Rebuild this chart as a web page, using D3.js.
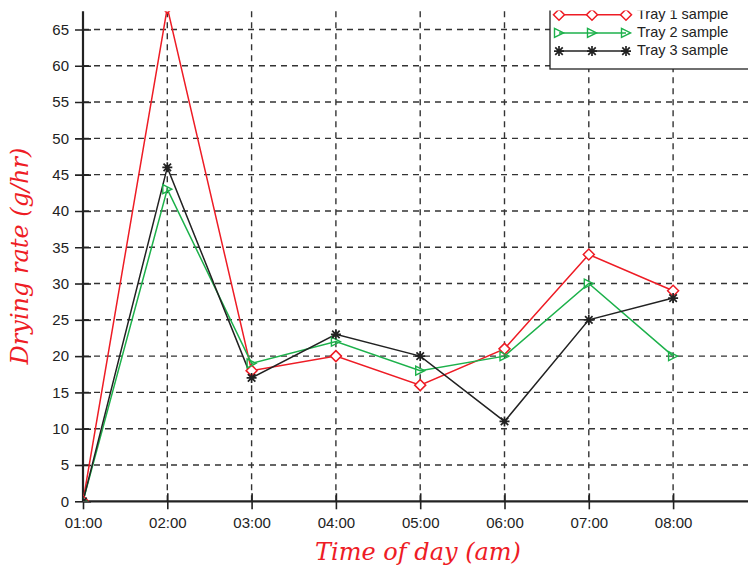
<!DOCTYPE html>
<html><head><meta charset="utf-8">
<script src="https://cdn.jsdelivr.net/npm/d3@7"></script>
<style>body{margin:0;background:#fff}svg{display:block}</style>
</head><body>
<svg id="c" width="748" height="569"></svg>
<script>
const hours = [1, 2, 3, 4, 5, 6, 7, 8];
const tickLabels = ["01:00","02:00","03:00","04:00","05:00","06:00","07:00","08:00"];
const tray1 = [0, 68, 18, 20, 16, 21, 34, 29];
const tray2 = [0, 43, 19, 22, 18, 20, 30, 20];
const tray3 = [0, 46, 17, 23, 20, 11, 25, 28];
const yTicks = [0,5,10,15,20,25,30,35,40,45,50,55,60,65];
const seriesNames = ["Tray 1 sample","Tray 2 sample","Tray 3 sample"];
const seriesColors = ["#ee1c25","#1db14b","#222222"];
const seriesMarkers = ["diamond","triangle","asterisk"];

(function(){
const svg = d3.select("#c");
const W = 748;
const pLeft = 83, pBottom = 501.3, pTop = 11.3;
const x = d3.scaleLinear().domain([1, 9]).range([pLeft, pLeft + 8*84.3]);
const y = d3.scaleLinear().domain([0, 67.5]).range([pBottom, pTop]);

const defs = svg.append("defs");
defs.append("clipPath").attr("id","pc")
  .append("rect").attr("x", pLeft).attr("y", pTop).attr("width", W-pLeft).attr("height", pBottom-pTop);
defs.append("clipPath").attr("id","fig")
  .append("rect").attr("x", 0).attr("y", 10.5).attr("width", W).attr("height", 569);
const root = svg.append("g").attr("clip-path","url(#fig)");

// grid
const grid = root.append("g");
grid.selectAll(".gy").data(yTicks.filter(d=>d>0)).join("line")
  .attr("x1", pLeft).attr("x2", W).attr("y1", d=>y(d)).attr("y2", d=>y(d))
  .attr("stroke","#333").attr("stroke-width",1.4).attr("stroke-dasharray","6,5");
grid.selectAll(".gx").data(hours.filter(d=>d>1)).join("line")
  .attr("x1", d=>x(d)).attr("x2", d=>x(d)).attr("y1", pTop).attr("y2", pBottom)
  .attr("stroke","#333").attr("stroke-width",1.4).attr("stroke-dasharray","6,5");

// axes
const xAxis = d3.axisBottom(x).tickValues(hours).tickFormat((d,i)=>tickLabels[i]).tickSizeInner(8).tickSizeOuter(0).tickPadding(8);
const gx = root.append("g").attr("transform",`translate(0,${pBottom})`).call(xAxis);
gx.select(".domain").remove();
gx.selectAll(".tick line").attr("y1",-8).attr("y2",8).attr("stroke","#222").attr("stroke-width",1.6);
gx.selectAll("text").attr("font-family","Liberation Sans, Arial, sans-serif").attr("font-size",15).attr("fill","#222");

const yAxis = d3.axisLeft(y).tickValues(yTicks).tickSizeInner(8).tickSizeOuter(0).tickPadding(6);
const gy = root.append("g").attr("transform",`translate(${pLeft},0)`).call(yAxis);
gy.select(".domain").remove();
gy.selectAll(".tick line").attr("x1",-8).attr("x2",8).attr("stroke","#222").attr("stroke-width",1.6);
gy.selectAll("text").attr("font-family","Liberation Sans, Arial, sans-serif").attr("font-size",15).attr("fill","#222");

root.append("line").attr("x1",pLeft).attr("x2",W).attr("y1",pBottom).attr("y2",pBottom).attr("stroke","#222").attr("stroke-width",2.2);
root.append("line").attr("x1",pLeft).attr("x2",pLeft).attr("y1",pTop).attr("y2",pBottom).attr("stroke","#222").attr("stroke-width",2.2);

// series
function marker(g, type, color, cx, cy) {
  if (type === "diamond") {
    const s = 5.5;
    g.append("path").attr("d",`M${cx},${cy-s}L${cx+s},${cy}L${cx},${cy+s}L${cx-s},${cy}Z`)
      .attr("fill","#fff").attr("stroke",color).attr("stroke-width",1.5);
  } else if (type === "triangle") {
    const s = 4.5;
    g.append("path").attr("d",`M${cx+s},${cy}L${cx-s},${cy-s}L${cx-s},${cy+s}Z`)
      .attr("fill","none").attr("stroke",color).attr("stroke-width",1.4);
  } else {
    const s = 5, d = s*0.75;
    g.append("path").attr("d",`M${cx-s},${cy}L${cx+s},${cy}M${cx},${cy-s}L${cx},${cy+s}M${cx-d},${cy-d}L${cx+d},${cy+d}M${cx-d},${cy+d}L${cx+d},${cy-d}`)
      .attr("fill","none").attr("stroke",color).attr("stroke-width",1.7);
  }
}
const plot = root.append("g").attr("clip-path","url(#pc)");
const line = d3.line().x((d,i)=>x(hours[i])).y(d=>y(d));
const allSeries = [tray1, tray2, tray3];
allSeries.forEach((vals, k) => {
  plot.append("path").datum(vals).attr("d", line).attr("fill","none")
    .attr("stroke", seriesColors[k]).attr("stroke-width",1.5);
});
allSeries.forEach((vals, k) => {
  vals.forEach((v,i) => marker(plot, seriesMarkers[k], seriesColors[k], x(hours[i]), y(v)));
});

// legend
const lg = root.append("g");
lg.append("rect").attr("x",550).attr("y",-5).attr("width",220).attr("height",74)
  .attr("fill","#fff").attr("stroke","#222").attr("stroke-width",1.3);
seriesNames.forEach((n,k) => {
  const ly = 14.7 + k*18.2;
  lg.append("line").attr("x1",559).attr("x2",626).attr("y1",ly).attr("y2",ly)
    .attr("stroke",seriesColors[k]).attr("stroke-width",1.5);
  [559,592,626].forEach(mx => marker(lg, seriesMarkers[k], seriesColors[k], mx, ly));
  lg.append("text").attr("x",637).attr("y",ly+3.8).text(n)
    .attr("font-family","Liberation Sans, Arial, sans-serif").attr("font-size",14.5).attr("fill","#222");
});

// axis titles
root.append("text").attr("x", 418).attr("y", 560).attr("text-anchor","middle")
  .attr("font-family","DejaVu Serif, serif").attr("font-style","italic").attr("font-size",24)
  .attr("fill","#ee1c25").text("Time of day (am)");
root.append("text").attr("transform","translate(28,256) rotate(-90)").attr("text-anchor","middle")
  .attr("font-family","DejaVu Serif, serif").attr("font-style","italic").attr("font-size",24)
  .attr("fill","#ee1c25").text("Drying rate (g/hr)");
})();
</script>
</body></html>
